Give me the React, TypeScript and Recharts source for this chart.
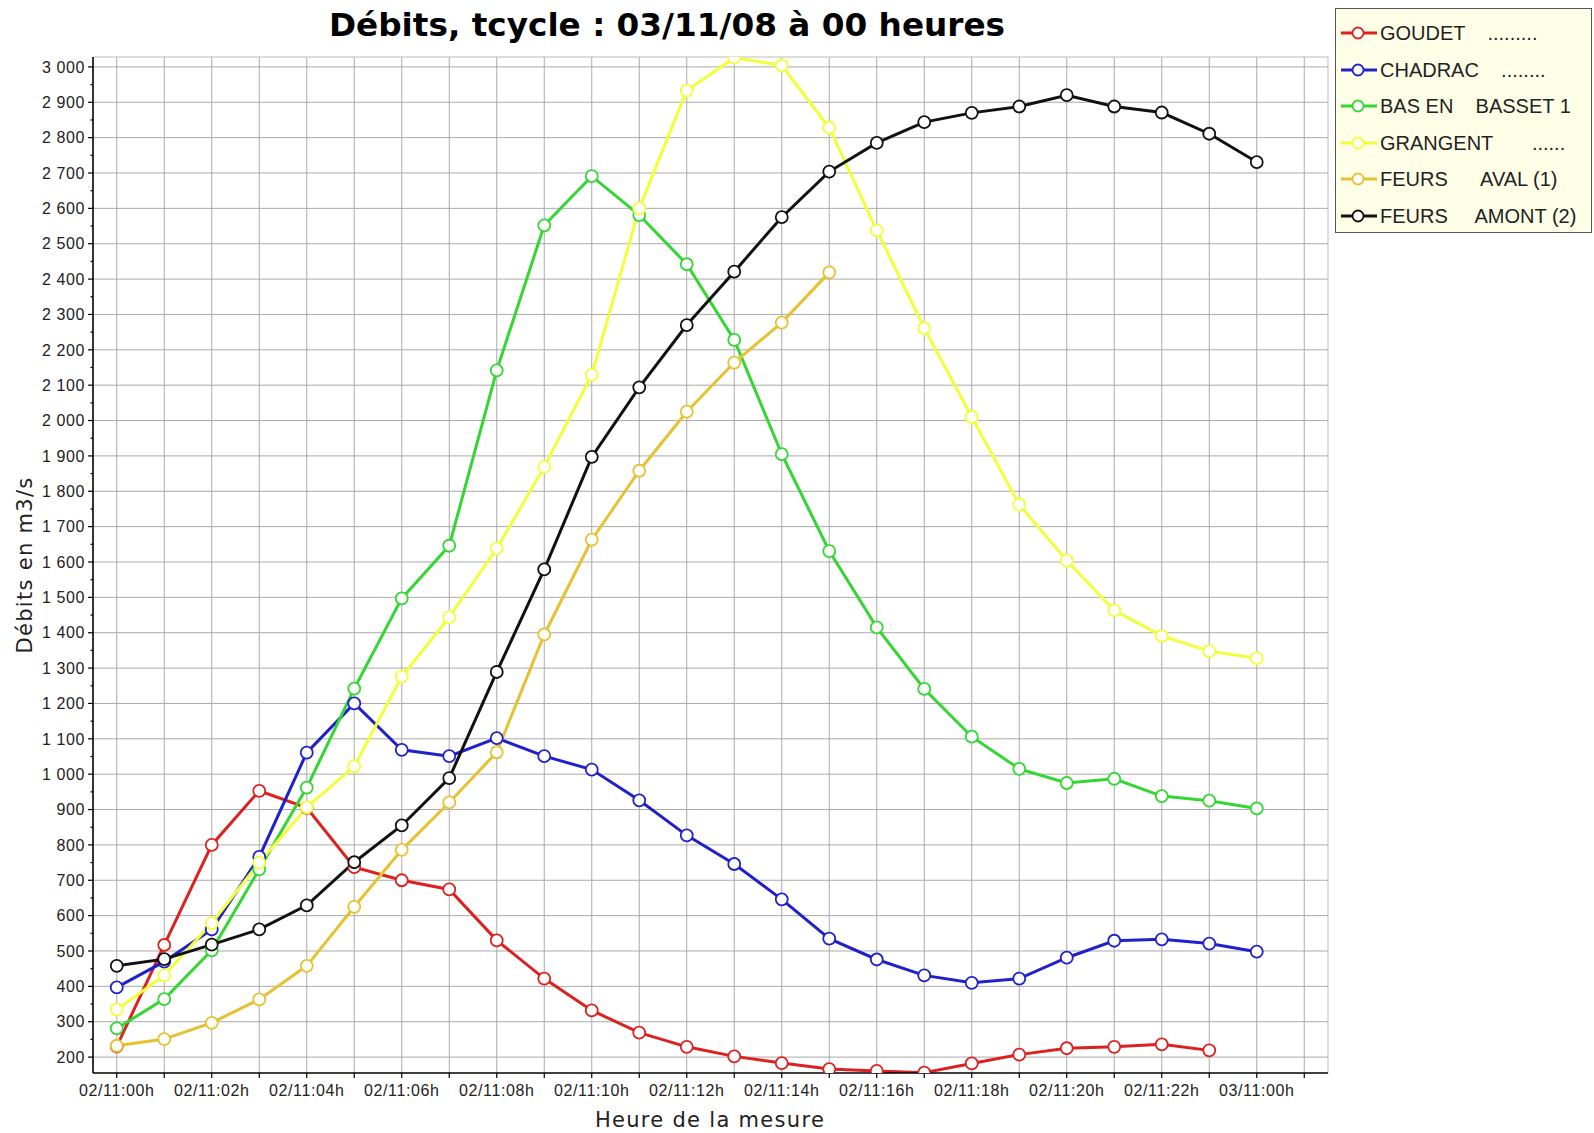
import React from 'react';
import { LineChart, Line, XAxis, YAxis, CartesianGrid, ReferenceLine } from 'recharts';

const hours = [0, 1, 2, 3, 4, 5, 6, 7, 8, 9, 10, 11, 12, 13, 14, 15, 16, 17, 18, 19, 20, 21, 22, 23, 24];
const hourTicks = [0, 1, 2, 3, 4, 5, 6, 7, 8, 9, 10, 11, 12, 13, 14, 15, 16, 17, 18, 19, 20, 21, 22, 23, 24, 25];
const hourLabels: Record<number, string> = {
  0: '02/11:00h', 2: '02/11:02h', 4: '02/11:04h', 6: '02/11:06h', 8: '02/11:08h', 10: '02/11:10h',
  12: '02/11:12h', 14: '02/11:14h', 16: '02/11:16h', 18: '02/11:18h', 20: '02/11:20h', 22: '02/11:22h', 24: '03/11:00h',
};

const goudet = [230, 517, 800, 953, 905, 737, 700, 674, 530, 422, 332, 269, 229, 202, 183, 166, 161, 156, 182, 207, 225, 229, 236, 219];
const chadrac = [397, 470, 561, 766, 1061, 1200, 1069, 1051, 1102, 1051, 1013, 926, 827, 746, 646, 535, 476, 431, 410, 422, 481, 529, 533, 521, 498];
const basEnBasset = [281, 364, 502, 731, 962, 1242, 1497, 1646, 2142, 2552, 2691, 2581, 2442, 2228, 1905, 1631, 1415, 1241, 1106, 1015, 975, 987, 938, 925, 903];
const grangent = [334, 431, 579, 750, 906, 1022, 1276, 1444, 1638, 1869, 2129, 2600, 2933, 3026, 3004, 2828, 2538, 2261, 2010, 1762, 1604, 1463, 1391, 1348, 1328];
const feursAval = [232, 251, 297, 363, 458, 625, 786, 920, 1062, 1395, 1663, 1858, 2025, 2164, 2277, 2419];
const feursAmont = [458, 477, 518, 561, 629, 751, 855, 989, 1289, 1579, 1897, 2094, 2270, 2421, 2575, 2704, 2785, 2844, 2870, 2888, 2920, 2888, 2871, 2811, 2731];

const seriesNames = ['GOUDET    .........', 'CHADRAC    ........', 'BAS EN    BASSET 1', 'GRANGENT       ......', 'FEURS      AVAL (1)', 'FEURS     AMONT (2)'];
const seriesKeys = ['goudet', 'chadrac', 'bas', 'grangent', 'aval', 'amont'];
const seriesColors = ['#DD2020', '#2020CC', '#33D633', '#F2FF38', '#E6C233', '#111111'];

const yMajor = [200, 300, 400, 500, 600, 700, 800, 900, 1000, 1100, 1200, 1300, 1400, 1500, 1600, 1700, 1800, 1900, 2000, 2100, 2200, 2300, 2400, 2500, 2600, 2700, 2800, 2900, 3000];
const yAll = [200, 250, 300, 350, 400, 450, 500, 550, 600, 650, 700, 750, 800, 850, 900, 950, 1000, 1050, 1100, 1150, 1200, 1250, 1300, 1350, 1400, 1450, 1500, 1550, 1600, 1650, 1700, 1750, 1800, 1850, 1900, 1950, 2000, 2050, 2100, 2150, 2200, 2250, 2300, 2350, 2400, 2450, 2500, 2550, 2600, 2650, 2700, 2750, 2800, 2850, 2900, 2950, 3000];

const data = hours.map((h, i) => ({
  h,
  goudet: goudet[i],
  chadrac: chadrac[i],
  bas: basEnBasset[i],
  grangent: grangent[i],
  aval: feursAval[i],
  amont: feursAmont[i],
}));

const fmtY = (v: number) =>
  v >= 1000 ? `${Math.floor(v / 1000)} ${String(v % 1000).padStart(3, '0')}` : String(v);

const tickFont = { fontFamily: '"Liberation Sans", Arial, sans-serif', fontSize: 16, letterSpacing: 0.6, fill: '#222' };
const labelFont = { fontFamily: '"DejaVu Sans", Verdana, sans-serif', fontSize: 21, letterSpacing: 1.3, fill: '#222' };

const YTick = (props: any) => {
  const { x, y, payload } = props;
  const v = payload.value;
  const major = v % 100 === 0;
  const ax = x + 7;
  return (
    <g>
      <line x1={ax - (major ? 5 : 2.5)} x2={ax} y1={y} y2={y} stroke="#000" strokeWidth={1.2} />
      {major && (
        <text x={x - 1} y={y} dy="0.36em" textAnchor="end" {...tickFont}>
          {fmtY(v)}
        </text>
      )}
    </g>
  );
};

export default function App() {
  return (
    <div style={{ position: 'absolute', left: 0, top: 0, width: 1594, height: 1133, background: '#fff' }}>
      <svg style={{ position: 'absolute', left: 0, top: 0 }} width={1334} height={50}>
        <text x={667} y={36} textAnchor="middle" fontFamily='"DejaVu Sans", Verdana, sans-serif' fontWeight="bold" fontSize={32.7} fill="#000">
          Débits, tcycle : 03/11/08 à 00 heures
        </text>
      </svg>
      <div style={{ position: 'absolute', left: 0, top: 0 }}>
        <LineChart width={1594} height={1133} data={data} margin={{ top: 57, right: 266, bottom: 30, left: 13 }}>
          <CartesianGrid stroke="#aaa" strokeWidth={1} horizontalValues={yMajor} verticalValues={hourTicks} />
          <ReferenceLine y={3028} stroke="#bbb" strokeWidth={1} ifOverflow="visible" />
          <ReferenceLine x={25.5} stroke="#bbb" strokeWidth={1} ifOverflow="visible" />
          <XAxis
            dataKey="h"
            type="number"
            domain={[-0.5, 25.5]}
            ticks={hourTicks}
            allowDataOverflow
            interval={0}
            height={30}
            tickSize={5}
            tickMargin={7}
            tickFormatter={(v: number) => hourLabels[v] ?? ''}
            tick={tickFont}
            axisLine={{ stroke: '#000', strokeWidth: 1.6 }}
            tickLine={{ stroke: '#000', strokeWidth: 1.2 }}
            label={{
              content: (p: any) => (
                <text x={710} y={1127} textAnchor="middle" {...labelFont}>
                  Heure de la mesure
                </text>
              ),
            }}
          />
          <YAxis
            type="number"
            domain={[155, 3028]}
            ticks={yAll}
            interval={0}
            allowDataOverflow
            width={80}
            tickSize={5}
            tickMargin={2}
            tickLine={false}
            tick={<YTick />}
            axisLine={{ stroke: '#000', strokeWidth: 1.6 }}
            label={{
              content: (p: any) => (
                <text x={0} y={0} transform="translate(32,565) rotate(-90)" textAnchor="middle" {...labelFont}>
                  Débits en m3/s
                </text>
              ),
            }}
          />
          {seriesKeys.map((k, i) => (
            <Line
              key={k}
              dataKey={k}
              name={seriesNames[i]}
              type="linear"
              stroke={seriesColors[i]}
              strokeWidth={3}
              dot={{ r: 6, fill: '#fff', stroke: seriesColors[i], strokeWidth: 1.8 }}
              activeDot={false}
              isAnimationActive={false}
              connectNulls={false}
            />
          ))}
        </LineChart>
      </div>
      <div
        style={{
          position: 'absolute',
          left: 1335,
          top: 8,
          width: 257,
          height: 225,
          background: '#FFFFE8',
          border: '1px solid #555',
          boxSizing: 'border-box',
        }}
      >
        {seriesNames.map((n, i) => {
          const cy = 24 + i * 36.6;
          return (
            <React.Fragment key={n}>
              <svg style={{ position: 'absolute', left: 0, top: cy - 10 }} width={44} height={20}>
                <line x1={5} x2={41} y1={10} y2={10} stroke={seriesColors[i]} strokeWidth={3} />
                <circle cx={22} cy={10} r={5.5} fill="#fff" stroke={seriesColors[i]} strokeWidth={1.8} />
              </svg>
              <div
                style={{
                  position: 'absolute',
                  left: 44,
                  top: cy - 12,
                  height: 24,
                  lineHeight: '24px',
                  whiteSpace: 'pre',
                  fontFamily: '"Liberation Sans", Arial, sans-serif',
                  fontSize: 20,
                  color: '#222',
                }}
              >
                {n}
              </div>
            </React.Fragment>
          );
        })}
      </div>
    </div>
  );
}
